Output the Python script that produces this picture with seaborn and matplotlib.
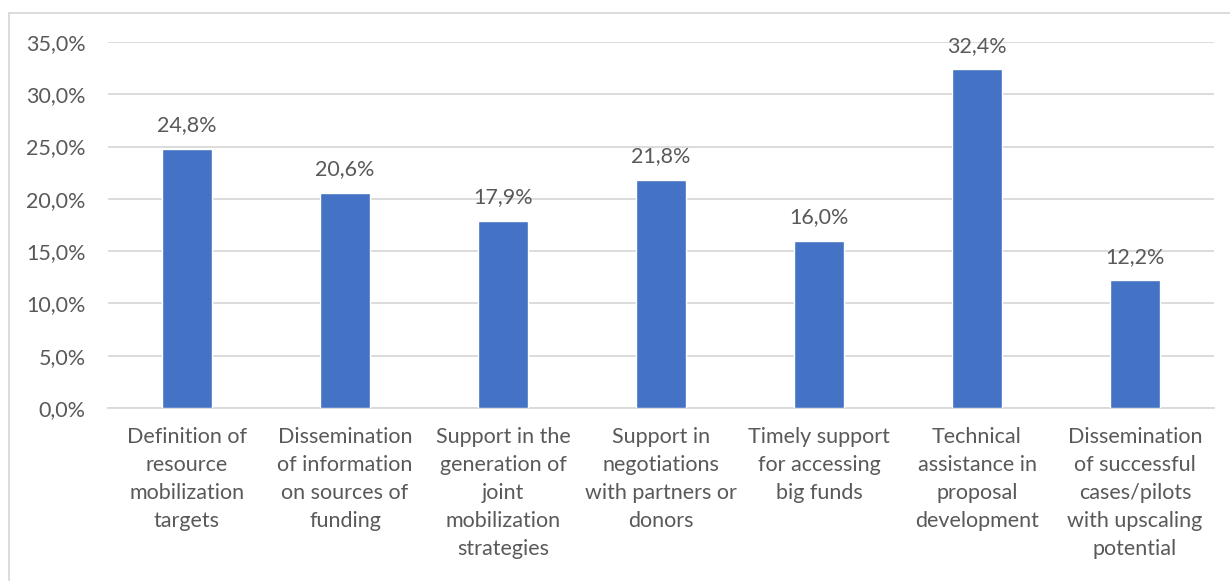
import matplotlib
matplotlib.use('Agg')
import pandas as pd
import seaborn as sns
import matplotlib.pyplot as plt
from matplotlib.patches import Rectangle

categories = [
    "Definition of\nresource\nmobilization\ntargets",
    "Dissemination\nof information\non sources of\nfunding",
    "Support in the\ngeneration of\njoint\nmobilization\nstrategies",
    "Support in\nnegotiations\nwith partners or\ndonors",
    "Timely support\nfor accessing\nbig funds",
    "Technical\nassistance in\nproposal\ndevelopment",
    "Dissemination\nof successful\ncases/pilots\nwith upscaling\npotential",
]
values = [24.8, 20.6, 17.9, 21.8, 16.0, 32.4, 12.2]
yticks = [0, 5, 10, 15, 20, 25, 30, 35]

df = pd.DataFrame({"category": categories, "value": values})

sns.set_style("white")
plt.rcParams['font.family'] = ['Lato', 'DejaVu Sans']

text_col = '#595959'
fig = plt.figure(figsize=(12.3, 5.81), dpi=100)
ax = fig.add_axes([108 / 1230, 1 - 408 / 581, (1214 - 108) / 1230, (408 - 42) / 581])

sns.barplot(data=df, x="category", y="value", color='#4472C4', width=0.32,
            saturation=1, ax=ax, zorder=3)

for i, v in enumerate(values):
    ax.text(i, v + 1.3, f"{v:.1f}".replace('.', ',') + '%', ha='center', va='bottom',
            fontsize=15.5, color=text_col)

ax.set_ylim(0, 35)
ax.set_yticks(yticks)
ax.set_yticklabels([f"{t:.1f}".replace('.', ',') + '%' for t in yticks])
ax.grid(axis='y', color='#D9D9D9', linewidth=1.3, zorder=0)
ax.set_xlabel('')
ax.set_ylabel('')
for s in ['top', 'right', 'left']:
    ax.spines[s].set_visible(False)
ax.spines['bottom'].set_color('#D9D9D9')
ax.spines['bottom'].set_linewidth(1.3)
ax.tick_params(axis='y', length=0, pad=16, labelsize=15.5, labelcolor=text_col)
ax.tick_params(axis='x', length=0, pad=14, labelsize=15.5, labelcolor=text_col)
for lab in ax.get_xticklabels():
    lab.set_linespacing(1.5)

fig.patches.append(Rectangle((9 / 1230, -0.1), 1.2, 1 - 13 / 581 + 0.1,
                             transform=fig.transFigure, fill=False,
                             edgecolor='#D9D9D9', linewidth=1.3))

fig.savefig('out.png', dpi=100)
